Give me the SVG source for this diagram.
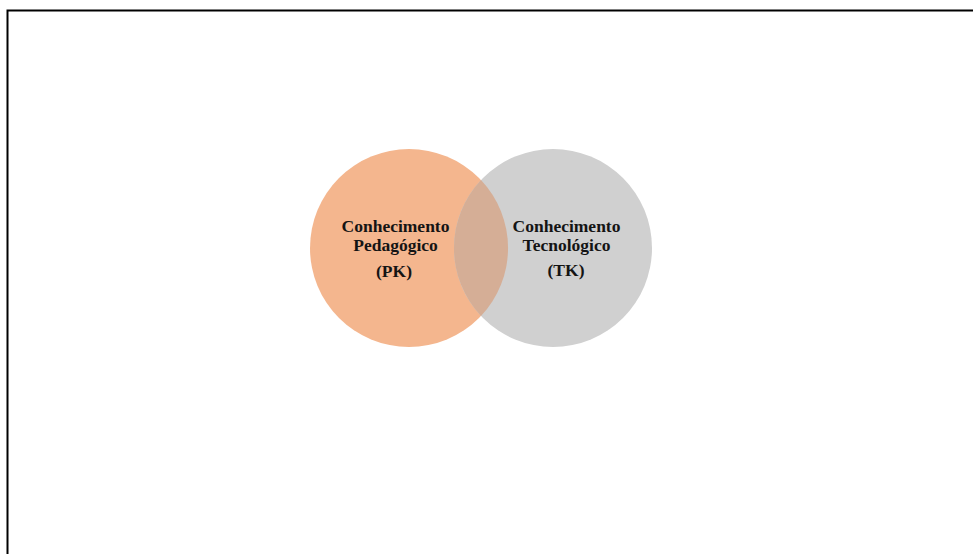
<svg xmlns="http://www.w3.org/2000/svg" width="973" height="554" viewBox="0 0 973 554">
  <style>
    .lbl { font-family: "Liberation Serif", "Times New Roman", serif; font-weight: bold; font-size: 17.5px; fill: #141414; text-anchor: middle; }
  </style>
  <rect x="0" y="0" width="973" height="554" fill="#ffffff"/>
  <path d="M7.5,554 L7.5,10.5 L973,10.5" fill="none" stroke="#000" stroke-width="2"/>
  <g id="pk">
    <circle cx="409" cy="248" r="99" fill="#F4B68E"/>
  </g>
  <g id="tk">
    <circle cx="553" cy="248" r="99" fill="#D0D0D0"/>
  </g>
  <g id="overlap">
    <path d="M481,180 A99,99 0 0,1 481,316 A99,99 0 0,1 481,180 Z" fill="#D5AE96"/>
  </g>
  <g id="pk-label">
    <text class="lbl" x="395.5" y="232">Conhecimento</text>
    <text class="lbl" x="395.5" y="251">Pedagógico</text>
    <text class="lbl" x="394" y="277">(PK)</text>
  </g>
  <g id="tk-label">
    <text class="lbl" x="566.5" y="232">Conhecimento</text>
    <text class="lbl" x="566.5" y="250.5">Tecnológico</text>
    <text class="lbl" x="566" y="276">(TK)</text>
  </g>
  <g id="connectors"></g>
</svg>
